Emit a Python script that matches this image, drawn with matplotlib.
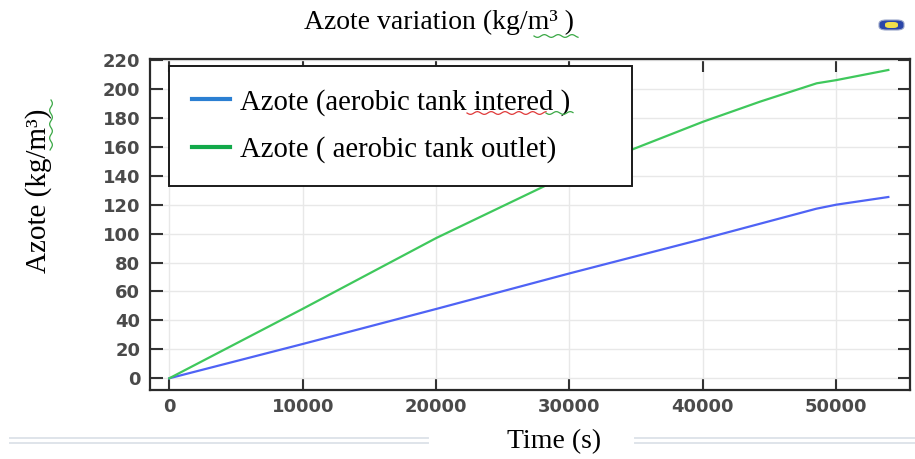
import numpy as np
import matplotlib
matplotlib.use("Agg")
import matplotlib.pyplot as plt
from matplotlib.lines import Line2D
from matplotlib.patches import FancyBboxPatch

# Simulated azote concentration over time
time_out = [0, 10000, 20000, 28300, 34740, 40000, 44280, 48530, 50000, 53900]
azote_outlet = [0, 48, 96.9, 133.6, 158.3, 177.3, 191.2, 203.9, 206.1, 213.1]

time_in = [0, 10000, 20000, 30000, 40000, 48500, 50000, 53900]
azote_inlet = [0, 23.7, 47.9, 72.5, 96.3, 117.2, 120.0, 125.3]

x_ticks = [0, 10000, 20000, 30000, 40000, 50000]
y_ticks = [0, 20, 40, 60, 80, 100, 120, 140, 160, 180, 200, 220]

label_inlet = "Azote (aerobic tank intered )"
label_outlet = "Azote ( aerobic tank outlet)"

W, H = 915, 459
fig = plt.figure(figsize=(W / 100, H / 100), dpi=100)
fig.patch.set_facecolor("white")


def fx(px):
    return px / W


def fy(py):
    return 1 - py / H


ax = fig.add_axes([fx(150), fy(390), fx(910) - fx(150), fy(59) - fy(390)])

ax.plot(time_in, azote_inlet, color="#4f63f5", lw=1.6)
ax.plot(time_out, azote_outlet, color="#3fc85c", lw=1.6)

ax.set_xlim(-1447, 55525)
ax.set_ylim(-8.1, 220.7)
ax.set_xticks(x_ticks)
ax.set_yticks(y_ticks)
ax.grid(True, color="#e8e8e8", lw=1.0)
ax.set_axisbelow(True)

ax.tick_params(direction="in", length=9, width=1.5, color="#333333",
               top=True, right=True, labelsize=13, labelcolor="#4a4a4a")
ax.tick_params(axis="y", pad=7)
ax.tick_params(axis="x", pad=6)
for lab in ax.get_xticklabels() + ax.get_yticklabels():
    lab.set_fontweight("bold")
    lab.set_family("DejaVu Sans")

for side in ax.spines.values():
    side.set_color("#2a2a2a")
    side.set_linewidth(1.6)

serif = "Liberation Serif"
fs = 20

fig.text(fx(439), fy(22), "Azote variation (kg/m³ )", family=serif,
         fontsize=fs, ha="center", va="center")
fig.text(fx(39), fy(191), "Azote (kg/m³)", family=serif, fontsize=21,
         ha="center", va="center", rotation=90)
fig.text(fx(554), fy(442), "Time (s)", family=serif, fontsize=fs,
         ha="center", va="center")

handles = [Line2D([], [], color="#2b7fd2", lw=3),
           Line2D([], [], color="#12a94a", lw=3)]
box_w = fx(631.7) - fx(169.3)
leg = ax.legend(handles, [label_inlet, label_outlet],
                loc="upper left", mode="expand",
                bbox_to_anchor=(fx(169.3), fy(65.7) - 0.2, box_w, 0.2),
                bbox_transform=fig.transFigure,
                borderaxespad=0, prop={"family": serif, "size": 20.7},
                frameon=True, fancybox=False, handlelength=1.3,
                handletextpad=0.35, borderpad=0.8, labelspacing=0.71)
frame = leg.get_frame()
frame.set_edgecolor("#1a1a1a")
frame.set_linewidth(1.4)
frame.set_alpha(1)


def squiggle(x0, x1, y, color, vertical=False):
    n = int(abs(x1 - x0) / 1.5) + 2
    t = np.linspace(x0, x1, n)
    w = y + 1.4 * np.sin((t - x0) / 2.2)
    if vertical:
        xs, ys = [fx(v) for v in w], [fy(v) for v in t]
    else:
        xs, ys = [fx(v) for v in t], [fy(v) for v in w]
    fig.add_artist(Line2D(xs, ys, color=color, lw=0.9,
                          transform=fig.transFigure))


# spell-check marks
squiggle(534, 578, 36, "#3aa845")
squiggle(467, 546, 113, "#e03a3a")
squiggle(546, 573, 113, "#3aa845")
squiggle(100, 150, 51, "#3aa845", vertical=True)

# small badge in the top-right corner
fig.add_artist(FancyBboxPatch((fx(879), fy(30)), fx(904) - fx(879),
                              fy(20) - fy(30),
                              boxstyle="round,pad=0,rounding_size=0.008",
                              transform=fig.transFigure,
                              facecolor="#2b46a8", edgecolor="#9aa6c8", lw=0.8))
fig.add_artist(FancyBboxPatch((fx(885), fy(28)), fx(898) - fx(885),
                              fy(22) - fy(28),
                              boxstyle="round,pad=0,rounding_size=0.005",
                              transform=fig.transFigure,
                              facecolor="#f2e04a", edgecolor="none"))

# double separator rules at the bottom
for (a, b) in [(10, 428), (635, 915)]:
    for yy in (438, 443):
        fig.add_artist(Line2D([fx(a), fx(b)], [fy(yy), fy(yy)],
                              color="#dfe4ea", lw=1.4,
                              transform=fig.transFigure))

fig.savefig("out.png", dpi=100)
